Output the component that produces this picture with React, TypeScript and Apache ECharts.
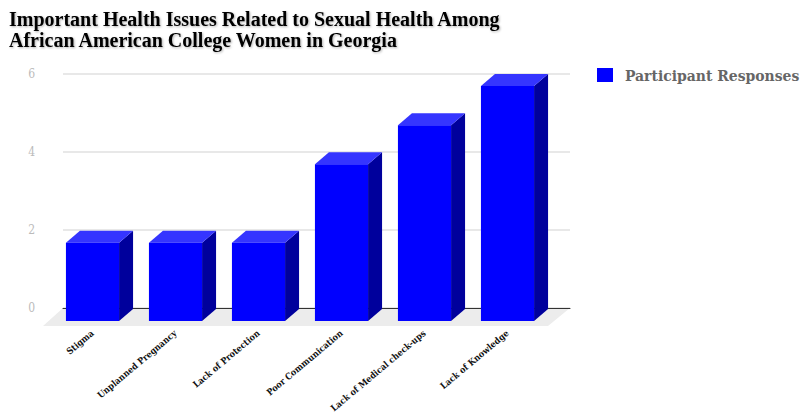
import React, { useEffect, useRef } from "react";
import * as echarts from "echarts";

const titleLines = [
  "Important Health Issues Related to Sexual Health Among",
  "African American College Women in Georgia",
];
const categories = [
  "Stigma",
  "Unplanned Pregnancy",
  "Lack of Protection",
  "Poor Communication",
  "Lack of Medical check-ups",
  "Lack of Knowledge",
];
const seriesName = "Participant Responses";
const values = [2, 2, 2, 4, 5, 6];
const yMin = 0;
const yMax = 6;
const yInterval = 2;

const DX = 14;
const DY = 12;

export default function App() {
  const ref = useRef<HTMLDivElement>(null);
  useEffect(() => {
    if (!ref.current) return;
    const chart = echarts.init(ref.current, undefined, { renderer: "svg" });
    const serif = "'DejaVu Serif Condensed', 'DejaVu Serif', 'Liberation Serif', serif";
    const titleSerif = "'Liberation Serif', 'DejaVu Serif', serif";
    chart.setOption({
      animation: false,
      backgroundColor: "#ffffff",
      title: {
        text: titleLines.join("\n"),
        left: 4,
        top: 3,
        textStyle: {
          fontFamily: titleSerif,
          fontWeight: "bold",
          fontSize: 20,
          lineHeight: 21,
          color: "#000",
          textShadowColor: "rgba(0,0,0,0.3)",
          textShadowBlur: 2,
          textShadowOffsetX: 1,
          textShadowOffsetY: 1,
        },
      },
      legend: {
        left: 592,
        top: 62,
        itemWidth: 16,
        itemHeight: 14,
        icon: "rect",
        data: [seriesName],
        textStyle: {
          fontFamily: serif,
          fontWeight: "bold",
          fontSize: 15.5,
          color: "#666",
          padding: [0, 0, 0, 7],
        },
      },
      graphic: [
        {
          type: "polygon",
          z: -10,
          silent: true,
          shape: {
            points: [
              [63, 308],
              [570, 308],
              [548, 326],
              [43, 326],
            ],
          },
          style: { fill: "#ececec" },
        },
      ],
      grid: [
        { left: 63, right: 233, top: 74, bottom: 109, outerBoundsMode: "none", containLabel: false },
        { left: 51, right: 254, top: 86, bottom: 96, outerBoundsMode: "none", containLabel: false },
      ],
      xAxis: [
        {
          gridIndex: 0,
          type: "value",
          min: 0,
          max: 1,
          axisLabel: { show: false },
          axisTick: { show: false },
          splitLine: { show: false },
          axisLine: { show: true, lineStyle: { color: "#333", width: 1 } },
        },
        {
          gridIndex: 1,
          type: "category",
          data: categories,
          axisLine: { show: false },
          axisTick: { show: false },
          axisLabel: {
            rotate: 40,
            margin: 11,
            interval: 0,
            fontFamily: serif,
            fontWeight: "bold",
            fontSize: 9,
            color: "#111",
          },
        },
      ],
      yAxis: [
        {
          gridIndex: 0,
          type: "value",
          min: yMin,
          max: yMax,
          interval: yInterval,
          axisLine: { show: false },
          axisTick: { show: false },
          axisLabel: {
            margin: 28,
            fontFamily: serif,
            fontSize: 12,
            color: "#bbb",
          },
          splitLine: { lineStyle: { color: "#e0e0e0", width: 1.5 } },
        },
        {
          gridIndex: 1,
          type: "value",
          min: yMin,
          max: yMax,
          show: false,
          splitLine: { show: false },
        },
      ],
      series: [
        {
          name: seriesName,
          type: "custom",
          xAxisIndex: 1,
          yAxisIndex: 1,
          itemStyle: { color: "#0000ff" },
          data: values.map((v, i) => [i, v]),
          renderItem: (params: any, api: any) => {
            const idx = api.value(0);
            const val = api.value(1);
            const top = api.coord([idx, val]);
            const bot = api.coord([idx, 0]);
            const w = api.size([1, 0])[0] * 0.64;
            const x0 = top[0] - w / 2;
            const x1 = top[0] + w / 2;
            const yT = top[1];
            const yB = bot[1];
            return {
              type: "group",
              children: [
                {
                  type: "polygon",
                  shape: {
                    points: [
                      [x1, yT],
                      [x1 + DX, yT - DY],
                      [x1 + DX, yB - DY],
                      [x1, yB],
                    ],
                  },
                  style: { fill: "#00009c" },
                },
                {
                  type: "polygon",
                  shape: {
                    points: [
                      [x0, yT],
                      [x0 + DX, yT - DY],
                      [x1 + DX, yT - DY],
                      [x1, yT],
                    ],
                  },
                  style: { fill: "#3535ff" },
                },
                {
                  type: "polygon",
                  shape: {
                    points: [
                      [x0, yT],
                      [x1, yT],
                      [x1, yB],
                      [x0, yB],
                    ],
                  },
                  style: { fill: "#0000ff" },
                },
              ],
            };
          },
        },
      ],
    });
    return () => chart.dispose();
  }, []);
  return (
    <div
      ref={ref}
      style={{ position: "fixed", left: 0, top: 0, width: 803, height: 417 }}
    />
  );
}
